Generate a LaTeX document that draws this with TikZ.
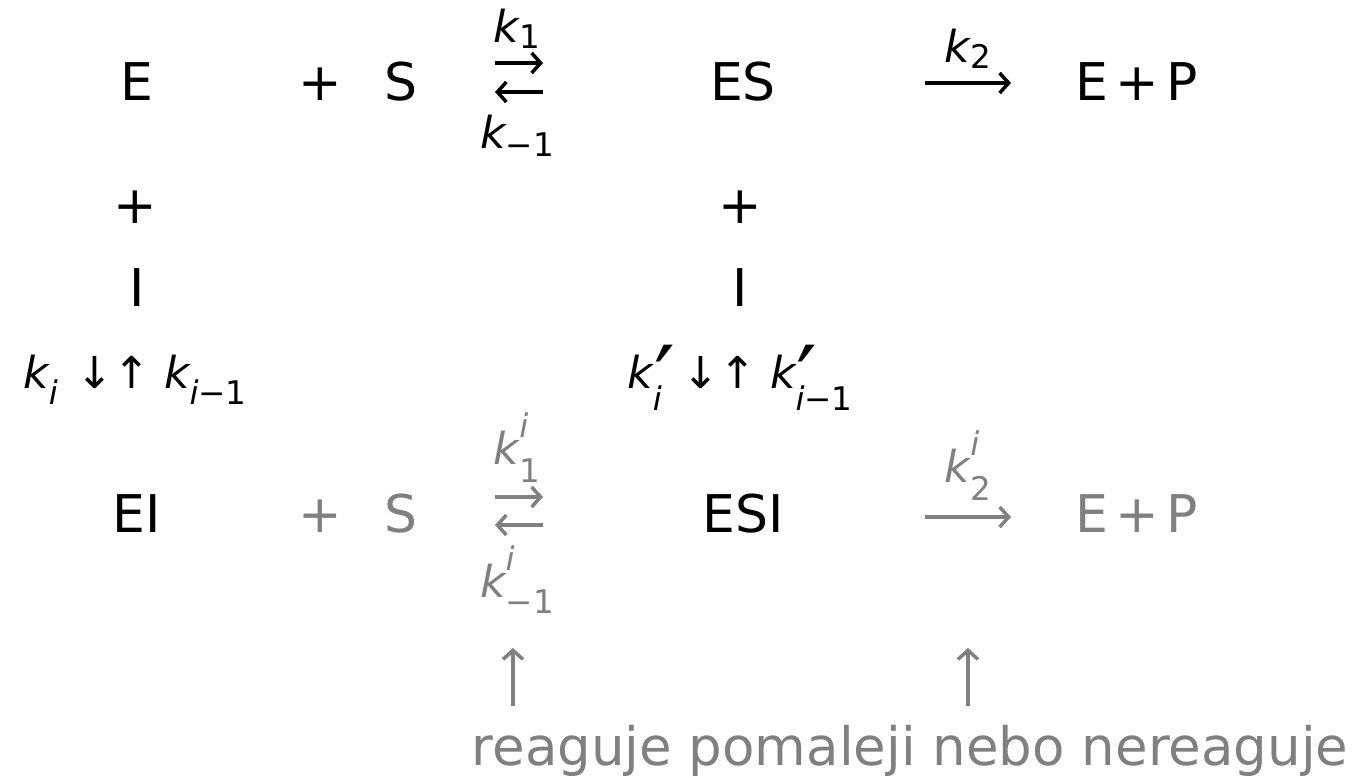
\documentclass[tikz,border=0pt]{standalone}
\usepackage{fontspec}
\setmainfont{DejaVu Sans}
\usepackage{graphicx}
\usetikzlibrary{arrows.meta}
% #1 sub drop, #2 sup raise, #3 sub, #4 sup
\newcommand{\kx}[4]{{\itshape k}\makebox[0pt][l]{\raisebox{#2}{\scalebox{0.74}{#4}}}\raisebox{-#1}{\scalebox{0.74}{#3}}}
\newcommand{\kp}[1]{{\itshape k}\makebox[0pt][l]{\hspace{0.03em}\raisebox{-0.55em}{\scalebox{2.1}{\char"2032}}}\raisebox{-0.5em}{\scalebox{0.74}{#1}}}
\begin{document}
\begin{tikzpicture}[x=1pt,y=-1pt,
  txt/.style={anchor=base,inner sep=0pt,font=\fontsize{52}{62}\selectfont},
  note/.style={anchor=base,inner sep=0pt,font=\fontsize{53}{63}\selectfont},
  rate/.style={anchor=base,inner sep=0pt,font=\fontsize{44}{52}\selectfont},
  dim/.style={text=gray},
  rxn/.style={line width=3.5pt,-{Straight Barb[length=9pt,width=20pt]}},
]
\useasboundingbox (0,0) rectangle (1352,777);
% row 1
\node[txt] (E) at (137,100) {E};
\node[txt] (p1) at (320,100) {+};
\node[txt] (S) at (401,100) {S};
\node[txt] (ES) at (743,100) {ES};
\node[txt] (EP) at (1137,100) {E\hspace{0.14em}+\hspace{0.14em}P};
\coordinate (f1a) at (495,63); \coordinate (f1b) at (543,63);
\coordinate (r1a) at (543,92); \coordinate (r1b) at (495,92);
\coordinate (c1a) at (925,83); \coordinate (c1b) at (1011,83);
\draw[rxn] (f1a) -- (f1b);
\draw[rxn] (r1a) -- (r1b);
\draw[rxn] (c1a) -- (c1b);
\node[rate] (k1) at (517,42) {\kx{0.15em}{0em}{1}{}};
\node[rate] (km1) at (517,148) {\kx{0.2em}{0em}{−1}{}};
\node[rate] (k2) at (968,62) {\kx{0.15em}{0em}{2}{}};
% rows 2-4
\node[txt] (p2) at (135,223) {+};
\node[txt] (I1) at (137,306) {I};
\node[txt] (p3) at (740,223) {+};
\node[txt] (I2) at (740,306) {I};
\node[rate] (ki) at (135,388) {\kx{0.38em}{0em}{\itshape i}{}\hspace{0.1em} ↓↑ \kx{0.38em}{0em}{{\itshape i}−1}{}};
\node[rate] (kpi) at (740,388) {\kp{\itshape i}\hspace{0.15em} ↓↑ \kp{{\itshape i}−1}};
% row 5
\node[txt] (EI) at (137,532) {EI};
\node[txt,dim] (p4) at (320,532) {+};
\node[txt,dim] (S2) at (401,532) {S};
\node[txt] (ESI) at (743,532) {ESI};
\node[txt,dim] (EP2) at (1137,532) {E\hspace{0.14em}+\hspace{0.14em}P};
\coordinate (f2a) at (495,497); \coordinate (f2b) at (543,497);
\coordinate (r2a) at (543,525); \coordinate (r2b) at (495,525);
\coordinate (c2a) at (925,517); \coordinate (c2b) at (1011,517);
\begin{scope}[draw=gray]
\draw[rxn] (f2a) -- (f2b);
\draw[rxn] (r2a) -- (r2b);
\draw[rxn] (c2a) -- (c2b);
\end{scope}
\node[rate,dim] (k1i) at (517,464) {\kx{0.42em}{0.6em}{1}{\itshape i}};
\node[rate,dim] (km1i) at (517,597) {\kx{0.38em}{0.6em}{−1}{\itshape i}};
\node[rate,dim] (k2i) at (968,482) {\kx{0.42em}{0.6em}{2}{\itshape i}};
% bottom
\node[note,dim] (nt) at (910,765) {reaguje pomaleji nebo nereaguje};
\coordinate (u1a) at (513,706); \coordinate (u1b) at (513,648);
\coordinate (u2a) at (968,706); \coordinate (u2b) at (968,648);
\draw[rxn,gray] (u1a) -- (u1b);
\draw[rxn,gray] (u2a) -- (u2b);
\end{tikzpicture}
\end{document}
